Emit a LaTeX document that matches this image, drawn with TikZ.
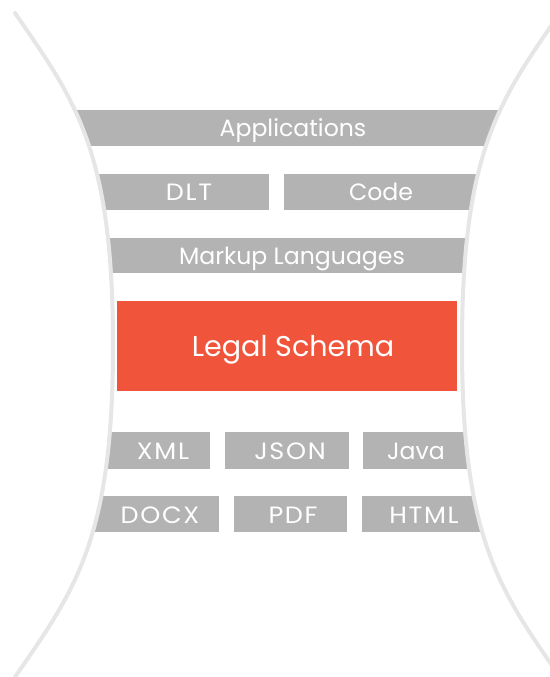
\documentclass[tikz,border=0pt]{standalone}
\usepackage{fontspec}
\setmainfont{Poppins}
\newfontfamily\widecaps[FakeStretch=1.08, LetterSpace=7]{Poppins}
\definecolor{rim}{HTML}{E6E6E6}
\definecolor{barGray}{HTML}{B3B3B3}
\definecolor{schemaRed}{HTML}{F0553C}
\tikzset{
  rimline/.style={draw=rim, line width=2pt},
  barlabel/.style={text=white, font=\fontsize{11.8}{14}\selectfont, inner sep=0pt, anchor=base},
  capslabel/.style={barlabel, font=\widecaps\fontsize{11.8}{14}\selectfont},
  mainlabel/.style={text=white, font=\fontsize{14.3}{17}\selectfont, inner sep=0pt, anchor=base}
}
\begin{document}
\begin{tikzpicture}[x=0.5pt, y=-0.5pt]
  \useasboundingbox (0,0) rectangle (550,677);

  % the two bowed rims
  \def\leftrim{(15,13) .. controls (75,100) and (113,150) .. (113,345) .. controls (113,540) and (75,590) .. (15,677)}
  \def\rightrim{(560,13) .. controls (500,100) and (462,150) .. (462,345) .. controls (462,540) and (500,590) .. (560,677)}

  % gray layers, trimmed to the space between the rims
  \begin{scope}
    \clip (15,13) .. controls (75,100) and (113,150) .. (113,345) .. controls (113,540) and (75,590) .. (15,677)
          -- (560,677) .. controls (500,590) and (462,540) .. (462,345) .. controls (462,150) and (500,100) .. (560,13) -- cycle;
    \fill[barGray] (0,110) rectangle (575,146);
    \fill[barGray] (0,174) rectangle (269,210);
    \fill[barGray] (284,174) rectangle (575,210);
    \fill[barGray] (0,238) rectangle (575,273);
    \fill[barGray] (0,432) rectangle (210,469);
    \fill[barGray] (225,432) rectangle (349,469);
    \fill[barGray] (363,432) rectangle (575,469);
    \fill[barGray] (0,496) rectangle (219,532);
    \fill[barGray] (234,496) rectangle (347,532);
    \fill[barGray] (362,496) rectangle (575,532);
  \end{scope}

  % central layer
  \fill[schemaRed] (117,301) rectangle (457,391);

  % rims on top
  \draw[rimline, line cap=round] \leftrim;
  \draw[rimline, line cap=round] \rightrim;

  % labels
  \node[barlabel] (apps) at (293,136.5) {Applications};
  \node[capslabel] (dlt) at (189,200.5) {DLT};
  \node[barlabel] (code) at (381,200.5) {Code};
  \node[barlabel] (markup) at (292,264.5) {Markup Languages};
  \node[mainlabel] (schema) at (293,356.5) {Legal Schema};
  \node[capslabel] (xml) at (163,459) {XML};
  \node[capslabel] (json) at (290,459) {JSON};
  \node[barlabel] (java) at (416,459) {Java};
  \node[capslabel] (docx) at (160,523) {DOCX};
  \node[capslabel] (pdf) at (293,523) {PDF};
  \node[capslabel] (html) at (424,523) {HTML};
\end{tikzpicture}
\end{document}
